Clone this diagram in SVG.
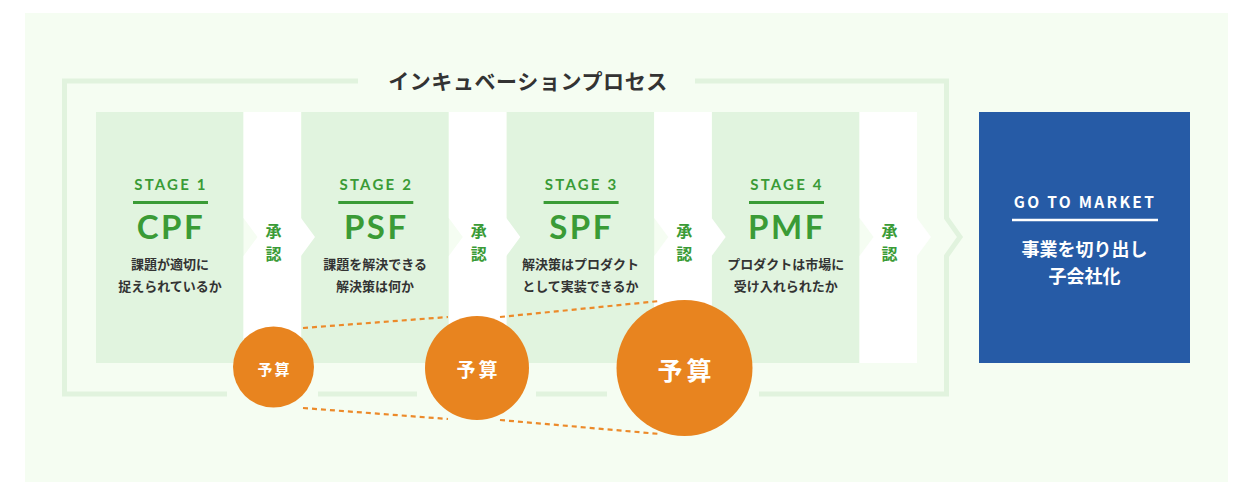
<svg xmlns="http://www.w3.org/2000/svg" width="1252" height="490" viewBox="0 0 1252 490">
<style>
.bg{fill:#f5fdf2}
.frame{fill:none;stroke:#e1f3de;stroke-width:5;stroke-linejoin:miter}
.stage{fill:#e1f4df}
.strip{fill:#ffffff}
.lbl{font-family:Lato,"Liberation Sans",sans-serif;font-weight:700;fill:#3a9b36;text-anchor:middle}
.st{font-size:15px;letter-spacing:2.2px}
.big{font-size:33px;letter-spacing:2.5px}
.rule{stroke:#3a9b36;stroke-width:3}
.desc{font-family:"Noto Sans CJK JP",sans-serif;font-weight:700;font-size:13px;fill:#333333;text-anchor:middle}
.ok{font-family:"Noto Sans CJK JP",sans-serif;font-weight:700;font-size:16px;fill:#3a9b36;text-anchor:middle}
.title{font-family:"Noto Sans CJK JP",sans-serif;font-weight:700;font-size:21px;letter-spacing:0.6px;fill:#333333;text-anchor:middle}
.budget{fill:#e8841f}
.bt{font-family:"Noto Sans CJK JP",sans-serif;font-weight:700;fill:#ffffff;text-anchor:middle}
.dash{fill:none;stroke:#ec8a2a;stroke-width:2.2;stroke-dasharray:5 4}
.gtm{fill:#265ba6}
.wt{font-family:"Noto Sans CJK JP",sans-serif;font-weight:700;fill:#ffffff;text-anchor:middle}
</style>
<rect x="0" y="0" width="1252" height="490" fill="#ffffff"/>
<rect class="bg" x="25" y="13" width="1203" height="469"/>

<g id="frame">
  <path class="frame" d="M358,81 H64.5 V394 H227"/>
  <path class="frame" d="M318,394 H417"/>
  <path class="frame" d="M536,394 H607"/>
  <path class="frame" d="M759,394 H946.5 V256 L960,237 L946.5,218 V81 H695"/>
  <text class="title" x="528" y="89">インキュベーションプロセス</text>
</g>

<g id="stage1">
  <rect class="stage" x="96" y="112" width="147.5" height="251"/>
  <text class="lbl st" x="171" y="190">STAGE 1</text>
  <line class="rule" x1="133" y1="202.5" x2="208" y2="202.5"/>
  <text class="lbl big" x="171" y="239">CPF</text>
  <text class="desc" x="170" y="269">課題が適切に</text>
  <text class="desc" x="170" y="291">捉えられているか</text>
</g>
<g id="stage2">
  <rect class="stage" x="301.3" y="112" width="147.5" height="251"/>
  <text class="lbl st" x="376.3" y="190">STAGE 2</text>
  <line class="rule" x1="338.3" y1="202.5" x2="413.3" y2="202.5"/>
  <text class="lbl big" x="376.3" y="239">PSF</text>
  <text class="desc" x="375.1" y="269">課題を解決できる</text>
  <text class="desc" x="375.1" y="291">解決策は何か</text>
</g>
<g id="stage3">
  <rect class="stage" x="506.7" y="112" width="147.5" height="251"/>
  <text class="lbl st" x="581.6" y="190">STAGE 3</text>
  <line class="rule" x1="543.6" y1="202.5" x2="618.6" y2="202.5"/>
  <text class="lbl big" x="581.6" y="239">SPF</text>
  <text class="desc" x="580.4" y="269">解決策はプロダクト</text>
  <text class="desc" x="580.4" y="291">として実装できるか</text>
</g>
<g id="stage4">
  <rect class="stage" x="712" y="112" width="147.5" height="251"/>
  <text class="lbl st" x="787" y="190">STAGE 4</text>
  <line class="rule" x1="749" y1="202.5" x2="824" y2="202.5"/>
  <text class="lbl big" x="787" y="239">PMF</text>
  <text class="desc" x="785.7" y="269">プロダクトは市場に</text>
  <text class="desc" x="785.7" y="291">受け入れられたか</text>
</g>

<g id="approval1">
  <polygon class="strip" points="243.5,112 301,112 301,218 315,237 301,256 301,363 243.5,363 243.5,256 257.5,237 243.5,218"/>
  <text class="ok" x="273.5" y="237">承</text>
  <text class="ok" x="273.5" y="260">認</text>
</g>
<g id="approval2">
  <polygon class="strip" points="448.8,112 506.3,112 506.3,218 520.3,237 506.3,256 506.3,363 448.8,363 448.8,256 462.8,237 448.8,218"/>
  <text class="ok" x="478.8" y="237">承</text>
  <text class="ok" x="478.8" y="260">認</text>
</g>
<g id="approval3">
  <polygon class="strip" points="654.2,112 711.7,112 711.7,218 725.7,237 711.7,256 711.7,363 654.2,363 654.2,256 668.2,237 654.2,218"/>
  <text class="ok" x="684.2" y="237">承</text>
  <text class="ok" x="684.2" y="260">認</text>
</g>
<g id="approval4">
  <polygon class="strip" points="859.5,112 917,112 917,218 931,237 917,256 917,363 859.5,363 859.5,256 873.5,237 859.5,218"/>
  <text class="ok" x="889.5" y="237">承</text>
  <text class="ok" x="889.5" y="260">認</text>
</g>

<g id="connectors">
  <line class="dash" x1="303" y1="328" x2="448" y2="317"/>
  <line class="dash" x1="500" y1="317" x2="660" y2="301"/>
  <line class="dash" x1="303" y1="408" x2="448" y2="419"/>
  <line class="dash" x1="500" y1="420" x2="660" y2="434"/>
</g>

<g id="budget1">
  <circle class="budget" cx="273.5" cy="367" r="40.5"/>
  <text class="bt" x="274.5" y="375" font-size="15" letter-spacing="2">予算</text>
</g>
<g id="budget2">
  <circle class="budget" cx="477" cy="368" r="52"/>
  <text class="bt" x="478.5" y="377" font-size="19" letter-spacing="3">予算</text>
</g>
<g id="budget3">
  <circle class="budget" cx="684.5" cy="368" r="68"/>
  <text class="bt" x="686.5" y="380" font-size="25" letter-spacing="4">予算</text>
</g>

<g id="go-to-market">
  <rect class="gtm" x="979" y="112" width="211" height="251"/>
  <text class="wt" x="1085" y="208" font-family="Lato,'Liberation Sans',sans-serif" font-size="15.5" letter-spacing="2.3">GO TO MARKET</text>
  <line x1="1012" y1="220" x2="1158" y2="220" stroke="#ffffff" stroke-width="2.5"/>
  <text class="wt" x="1084.5" y="256" font-size="18">事業を切り出し</text>
  <text class="wt" x="1084.5" y="283" font-size="18">子会社化</text>
</g>
</svg>
